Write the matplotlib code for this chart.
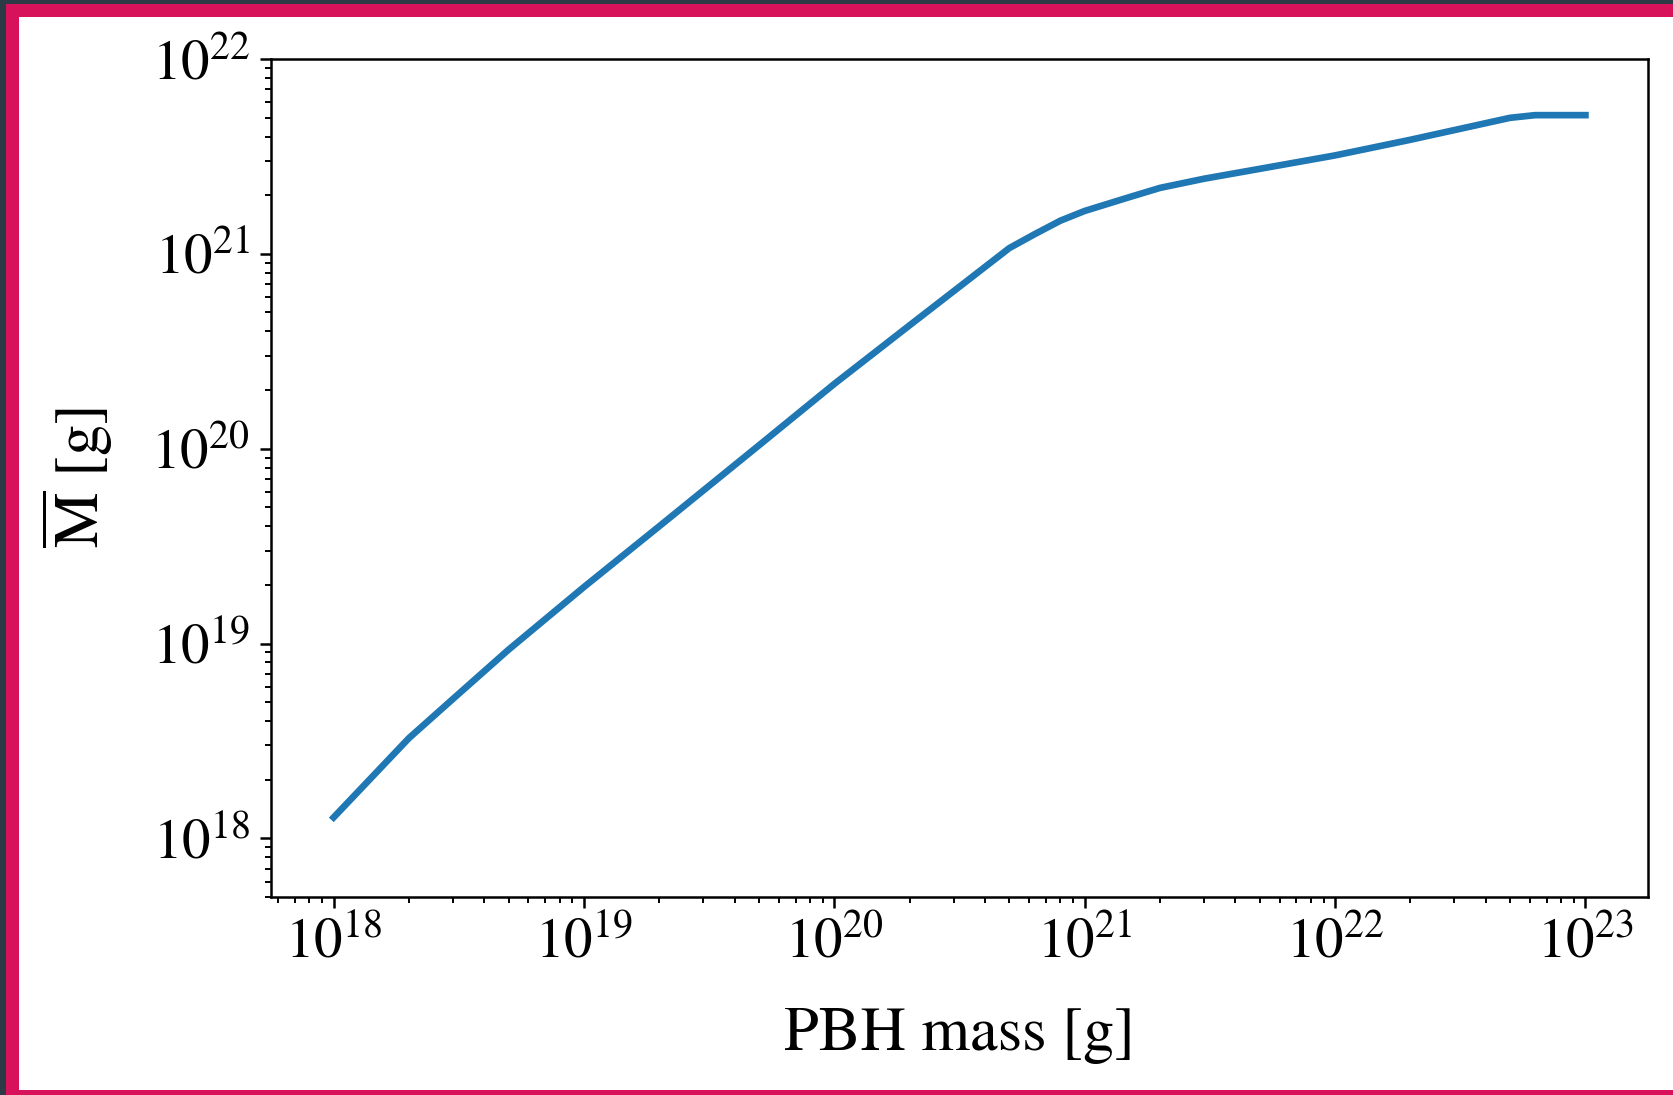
"""Mean mass M-bar vs PBH mass, log-log, inside a framed card."""
import matplotlib
matplotlib.use("Agg")
import matplotlib.pyplot as plt
from matplotlib.patches import Rectangle

pbh_mass = [1e18, 2e18, 3e18, 5e18, 1e19, 2e19, 5e19, 1e20, 2e20, 5e20,
            6.3e20, 8e20, 1e21, 1.5e21, 2e21, 3e21, 5e21, 1e22, 2e22,
            5e22, 6.3e22, 1e23]
m_bar = [1.28e18, 3.27e18, 5.2e18, 9.3e18, 1.95e19, 4.0e19, 1.04e20,
         2.15e20, 4.3e20, 1.07e21, 1.26e21, 1.48e21, 1.66e21, 1.95e21,
         2.18e21, 2.43e21, 2.73e21, 3.2e21, 3.85e21, 4.99e21, 5.15e21,
         5.15e21]

Y_LIM = (5e17, 1e22)
X_LABEL = "PBH mass [g]"
Y_LABEL = r"$\overline{\mathrm{M}}$ [g]"

W, H = 1674, 1095
DPI = 200

plt.rcParams["font.family"] = ["STIXGeneral", "DejaVu Serif"]
plt.rcParams["mathtext.fontset"] = "stix"

fig = plt.figure(figsize=(W / DPI, H / DPI), dpi=DPI, facecolor="white")

# card frame: dark edge, crimson border, white inside
dark, crimson = "#2c3a46", "#d8125a"
fig.add_artist(Rectangle((0, 0), 1, 1, transform=fig.transFigure,
                         facecolor=dark, edgecolor="none", zorder=-3))
fig.add_artist(Rectangle((6 / W, 0), 1, 1 - 4 / H, transform=fig.transFigure,
                         facecolor=crimson, edgecolor="none", zorder=-2))
fig.add_artist(Rectangle((19 / W, 5 / H), 1, 1 - 22 / H,
                         transform=fig.transFigure,
                         facecolor="white", edgecolor="none", zorder=-1))

ax = fig.add_axes([271 / W, 198 / H, (1648 - 271) / W, (897 - 59) / H])
ax.plot(pbh_mass, m_bar, color="#1f77b4", lw=2.4)
ax.set_xscale("log")
ax.set_yscale("log")
ax.set_ylim(*Y_LIM)

ax.tick_params(labelsize=20.5, width=0.9, length=4)
ax.tick_params(which="minor", width=0.7, length=2.2)
for s in ax.spines.values():
    s.set_linewidth(0.9)

ax.set_xlabel(X_LABEL, fontsize=22.5, labelpad=13)
ax.set_ylabel(Y_LABEL, fontsize=22.5, labelpad=13)

fig.savefig("out.png", dpi=DPI)
